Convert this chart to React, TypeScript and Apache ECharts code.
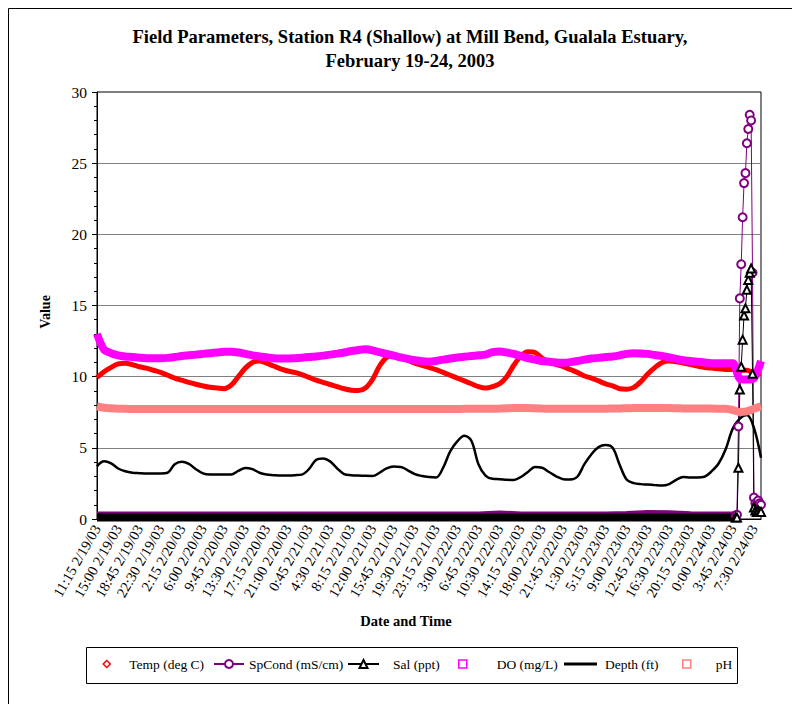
import React, { useEffect, useRef } from "react";
import * as echarts from "echarts";

const SERIF = "'Liberation Serif', 'Times New Roman', serif";

// x-axis tick labels (every 225 minutes from 11:15 2/19/03)
const tickLabels = [
  "11:15 2/19/03", "15:00 2/19/03", "18:45 2/19/03", "22:30 2/19/03",
  "2:15 2/20/03", "6:00 2/20/03", "9:45 2/20/03", "13:30 2/20/03",
  "17:15 2/20/03", "21:00 2/20/03", "0:45 2/21/03", "4:30 2/21/03",
  "8:15 2/21/03", "12:00 2/21/03", "15:45 2/21/03", "19:30 2/21/03",
  "23:15 2/21/03", "3:00 2/22/03", "6:45 2/22/03", "10:30 2/22/03",
  "14:15 2/22/03", "18:00 2/22/03", "21:45 2/22/03", "1:30 2/23/03",
  "5:15 2/23/03", "9:00 2/23/03", "12:45 2/23/03", "16:30 2/23/03",
  "20:15 2/23/03", "0:00 2/24/03", "3:45 2/24/03", "7:30 2/24/03",
];

// minutes since 11:15 2/19/03, sampled every 75 minutes
const mainTimes = Array.from({ length: 95 }, (_, i) => i * 75);

const tempValues = [
  9.95, 10.35, 10.65, 10.9, 10.95, 10.85, 10.7, 10.6, 10.45, 10.3,
  10.1, 9.9, 9.75, 9.6, 9.47, 9.35, 9.25, 9.2, 9.15, 9.4,
  10.0, 10.6, 11.0, 11.1, 10.95, 10.75, 10.55, 10.4, 10.3, 10.15,
  9.95, 9.75, 9.6, 9.45, 9.3, 9.15, 9.05, 9.02, 9.2, 9.8,
  10.75, 11.35, 11.5, 11.35, 11.15, 10.95, 10.8, 10.65, 10.5, 10.3,
  10.1, 9.9, 9.7, 9.5, 9.3, 9.2, 9.3, 9.5, 10.0, 10.8,
  11.45, 11.75, 11.7, 11.3, 11.0, 10.85, 10.7, 10.5, 10.3, 10.05,
  9.9, 9.7, 9.5, 9.35, 9.15, 9.12, 9.25, 9.65, 10.2, 10.65,
  11.0, 11.1, 11.05, 10.95, 10.85, 10.75, 10.65, 10.6, 10.55, 10.5,
  10.5, 10.45, 10.45, 10.25, 10.2,
];

const doValues = [
  13.0, 11.9, 11.65, 11.5, 11.42, 11.38, 11.33, 11.3, 11.3, 11.3,
  11.32, 11.38, 11.45, 11.5, 11.55, 11.6, 11.65, 11.7, 11.75, 11.75,
  11.7, 11.6, 11.5, 11.42, 11.36, 11.3, 11.28, 11.28, 11.3, 11.33,
  11.38, 11.42, 11.48, 11.55, 11.62, 11.7, 11.8, 11.88, 11.92, 11.85,
  11.72, 11.6, 11.48, 11.35, 11.25, 11.15, 11.08, 11.05, 11.1, 11.2,
  11.28, 11.35, 11.4, 11.45, 11.5, 11.55, 11.72, 11.76, 11.7, 11.6,
  11.45, 11.3, 11.2, 11.1, 11.05, 11.0, 10.98, 11.02, 11.1, 11.2,
  11.28, 11.32, 11.38, 11.42, 11.5, 11.6, 11.64, 11.62, 11.6, 11.52,
  11.45, 11.35, 11.25, 11.15, 11.1, 11.05, 11.0, 10.95, 10.95, 10.95,
  10.95, 9.85, 9.8, 9.9, 11.1,
];

const phValues = [
  7.9, 7.82, 7.78, 7.75, 7.74, 7.73, 7.72, 7.72, 7.72, 7.72,
  7.72, 7.72, 7.72, 7.73, 7.72, 7.72, 7.72, 7.72, 7.72, 7.72,
  7.72, 7.72, 7.72, 7.73, 7.72, 7.72, 7.72, 7.72, 7.72, 7.72,
  7.72, 7.72, 7.72, 7.72, 7.73, 7.72, 7.72, 7.72, 7.72, 7.72,
  7.72, 7.72, 7.72, 7.72, 7.72, 7.72, 7.73, 7.72, 7.72, 7.72,
  7.73, 7.73, 7.74, 7.74, 7.74, 7.74, 7.75, 7.76, 7.78, 7.8,
  7.8, 7.8, 7.78, 7.76, 7.75, 7.74, 7.74, 7.74, 7.74, 7.74,
  7.74, 7.75, 7.75, 7.76, 7.77, 7.78, 7.8, 7.8, 7.8, 7.8,
  7.8, 7.8, 7.78, 7.77, 7.76, 7.76, 7.76, 7.76, 7.75, 7.74,
  7.66, 7.52, 7.56, 7.75, 7.92,
];

const depthValues = [
  3.7, 4.05, 3.9, 3.55, 3.35, 3.25, 3.22, 3.2, 3.2, 3.2,
  3.25, 3.85, 4.03, 3.88, 3.5, 3.2, 3.12, 3.12, 3.12, 3.12,
  3.38, 3.58, 3.5, 3.25, 3.12, 3.08, 3.05, 3.06, 3.08, 3.12,
  3.5, 4.15, 4.25, 4.05, 3.55, 3.15, 3.08, 3.05, 3.03, 3.02,
  3.25, 3.55, 3.68, 3.66, 3.42, 3.15, 3.02, 2.95, 2.92, 3.6,
  4.75, 5.45, 5.85, 5.5, 3.85, 3.05, 2.82, 2.8, 2.76, 2.74,
  2.95, 3.3, 3.65, 3.6, 3.3, 3.0, 2.8, 2.78, 2.97, 3.85,
  4.55, 5.05, 5.2, 5.0, 3.8, 2.75, 2.52, 2.45, 2.42, 2.38,
  2.35, 2.45, 2.75, 2.95, 2.92, 2.92, 2.97, 3.35, 3.9, 4.9,
  6.35, 7.05, 7.3, 6.4, 4.3,
];

// low, flat stretch of SpCond and Sal (every 225 minutes)
const flatTimes = [...Array.from({ length: 31 }, (_, i) => i * 225), 6780];
const spcondFlat = [
  0.25, 0.25, 0.25, 0.25, 0.25, 0.25, 0.25, 0.25, 0.25, 0.25,
  0.25, 0.25, 0.25, 0.25, 0.25, 0.25, 0.25, 0.25, 0.25, 0.32,
  0.25, 0.25, 0.25, 0.25, 0.25, 0.28, 0.36, 0.34, 0.27, 0.25,
  0.25, 0.25,
];
const salFlat = [
  0.1, 0.1, 0.1, 0.1, 0.1, 0.1, 0.1, 0.1, 0.1, 0.1,
  0.1, 0.1, 0.1, 0.1, 0.1, 0.1, 0.1, 0.1, 0.1, 0.1,
  0.1, 0.1, 0.1, 0.1, 0.1, 0.1, 0.1, 0.1, 0.1, 0.1,
  0.1, 0.1,
];

// final hours, every 15 minutes
const spikeTimes = Array.from({ length: 19 }, (_, i) => 6780 + i * 15);
const spcondSpike = [
  0.25, 0.3, 6.5, 15.5, 17.9, 21.2, 23.6, 24.3, 26.4, 27.4,
  28.4, 28.0, 17.3, 1.5, 1.1, 1.0, 1.3, 1.1, 1.0,
];
const salSpike = [
  0.1, 0.1, 3.6, 9.1, 10.7, 12.6, 14.3, 14.8, 16.1, 16.8,
  17.3, 17.6, 10.2, 0.8, 0.6, 0.5, 0.6, 0.5, 0.5,
];

const pair = (ts: number[], vs: number[]) => ts.map((t, i) => [t, vs[i]]);

export default function App() {
  const ref = useRef<HTMLDivElement>(null);

  useEffect(() => {
    if (!ref.current) return;
    const chart = echarts.init(ref.current, null, { renderer: "svg" });
    const legendFont = { fontFamily: SERIF, fontSize: 13.5, color: "#000" };
    const legendBase = {
      top: 657,
      padding: 0,
      selectedMode: false,
      textStyle: legendFont,
    };
    const pad = (n: number) => ({ ...legendFont, padding: [0, 0, 0, n] });
    const centerText = {
      fontFamily: SERIF,
      fontWeight: "bold",
      fill: "#000",
      align: "center",
      textAlign: "center",
      verticalAlign: "middle",
      textVerticalAlign: "middle",
    };
    chart.setOption({
      animation: false,
      backgroundColor: "#fff",
      grid: {
        left: 97,
        top: 92,
        width: 664,
        height: 427,
        show: true,
        borderColor: "#000",
        borderWidth: 1,
        backgroundColor: "transparent",
        outerBoundsMode: "none",
      },
      xAxis: {
        type: "value",
        min: 0,
        max: 7050,
        interval: 225,
        axisLine: { show: true, onZero: false, lineStyle: { color: "#000" } },
        axisTick: { show: false },
        splitLine: { show: false },
        axisLabel: {
          rotate: 60,
          fontFamily: SERIF,
          fontSize: 14.5,
          color: "#000",
          margin: 7,
          showMaxLabel: false,
          formatter: (v: number) => {
            const i = v / 225;
            return Number.isInteger(i) && i < tickLabels.length ? tickLabels[i] : "";
          },
        },
      },
      yAxis: {
        type: "value",
        min: 0,
        max: 30,
        interval: 5,
        axisLine: { show: true, lineStyle: { color: "#000" } },
        axisTick: { show: true, length: 5, lineStyle: { color: "#000" } },
        minorTick: { show: true, splitNumber: 5, length: 3, lineStyle: { color: "#000" } },
        splitLine: {
          show: true,
          showMinLine: false,
          showMaxLine: false,
          lineStyle: { color: "#808080", width: 1 },
        },
        axisLabel: { fontFamily: SERIF, fontSize: 15.5, color: "#000", margin: 10 },
      },
      legend: [
        {
          ...legendBase,
          left: 102.5,
          itemWidth: 7,
          itemHeight: 7,
          textStyle: pad(14),
          data: [
            {
              name: "Temp (deg C)",
              icon: "diamond",
              itemStyle: { color: "#fff", borderColor: "#FF0000", borderWidth: 1.5 },
            },
          ],
        },
        {
          ...legendBase,
          left: 213,
          itemWidth: 30,
          itemHeight: 10,
          data: [{ name: "SpCond (mS/cm)" }],
        },
        {
          ...legendBase,
          left: 347,
          itemWidth: 31,
          itemHeight: 10,
          textStyle: pad(9),
          data: [{ name: "Sal (ppt)" }],
        },
        {
          ...legendBase,
          left: 458,
          itemWidth: 8,
          itemHeight: 8,
          textStyle: pad(25),
          data: [
            {
              name: "DO (mg/L)",
              icon: "rect",
              itemStyle: { color: "#fff", borderColor: "#FF00FF", borderWidth: 1.5 },
            },
          ],
        },
        {
          ...legendBase,
          left: 564,
          itemWidth: 33,
          itemHeight: 10,
          textStyle: pad(3),
          data: [
            {
              name: "Depth (ft)",
              icon: "path://M0,0H33V3H0Z",
              itemStyle: { color: "#000", borderWidth: 0 },
            },
          ],
        },
        {
          ...legendBase,
          left: 682,
          itemWidth: 8,
          itemHeight: 8,
          textStyle: pad(20),
          data: [
            {
              name: "pH",
              icon: "rect",
              itemStyle: { color: "#fff", borderColor: "#FF8080", borderWidth: 1.5 },
            },
          ],
        },
      ],
      graphic: [
        {
          type: "rect",
          silent: true,
          shape: { x: 8.5, y: 8.5, width: 800, height: 800 },
          style: { fill: "none", stroke: "#000", lineWidth: 1 },
        },
        {
          type: "rect",
          silent: true,
          shape: { x: 86.5, y: 647.5, width: 651, height: 36 },
          style: { fill: "#fff", stroke: "#000", lineWidth: 1 },
        },
        {
          type: "text",
          x: 410,
          y: 37,
          style: {
            ...centerText,
            text: "Field Parameters, Station R4 (Shallow) at Mill Bend, Gualala Estuary,",
            fontSize: 18.5,
          },
        },
        {
          type: "text",
          x: 410,
          y: 61,
          style: { ...centerText, text: "February 19-24, 2003", fontSize: 18.5 },
        },
        {
          type: "text",
          x: 45,
          y: 312,
          rotation: Math.PI / 2,
          style: { ...centerText, text: "Value", fontSize: 14 },
        },
        {
          type: "text",
          x: 406,
          y: 621,
          style: { ...centerText, text: "Date and Time", fontSize: 14.5 },
        },
      ],
      series: [
        {
          name: "Temp (deg C)",
          type: "line",
          data: pair(mainTimes, tempValues),
          symbol: "none",
          smooth: 0.3,
          lineStyle: { color: "#FF0000", width: 5 },
          itemStyle: { color: "#FF0000" },
        },
        {
          name: "SpCond (mS/cm)",
          type: "line",
          data: pair(spikeTimes, spcondSpike),
          symbol: "emptyCircle",
          symbolSize: 8,
          lineStyle: { color: "#800080", width: 1 },
          itemStyle: { color: "#800080", borderWidth: 1 },
        },
        {
          name: "SpCond (mS/cm)",
          type: "line",
          data: pair(flatTimes, spcondFlat),
          symbol: "none",
          lineStyle: { color: "#800080", width: 8 },
          itemStyle: { color: "#800080" },
        },
        {
          name: "Sal (ppt)",
          type: "line",
          data: pair(spikeTimes, salSpike),
          symbol: "emptyTriangle",
          symbolSize: 8,
          lineStyle: { color: "#000", width: 1 },
          itemStyle: { color: "#000", borderWidth: 1 },
        },
        {
          name: "Sal (ppt)",
          type: "line",
          data: pair(flatTimes, salFlat),
          symbol: "none",
          lineStyle: { color: "#000", width: 8 },
          itemStyle: { color: "#000" },
        },
        {
          name: "DO (mg/L)",
          type: "line",
          data: pair(mainTimes, doValues),
          symbol: "none",
          smooth: 0.3,
          lineStyle: { color: "#FF00FF", width: 8 },
          itemStyle: { color: "#FF00FF" },
        },
        {
          name: "Depth (ft)",
          type: "line",
          data: pair(mainTimes, depthValues),
          symbol: "none",
          smooth: 0.35,
          lineStyle: { color: "#000", width: 2.5 },
          itemStyle: { color: "#000" },
        },
        {
          name: "pH",
          type: "line",
          data: pair(mainTimes, phValues),
          symbol: "none",
          smooth: 0.3,
          lineStyle: { color: "#FF8080", width: 8 },
          itemStyle: { color: "#FF8080" },
        },
      ],
    });
    return () => chart.dispose();
  }, []);

  return (
    <div
      ref={ref}
      style={{ position: "absolute", left: 0, top: 0, width: 792, height: 704, background: "#fff" }}
    />
  );
}
